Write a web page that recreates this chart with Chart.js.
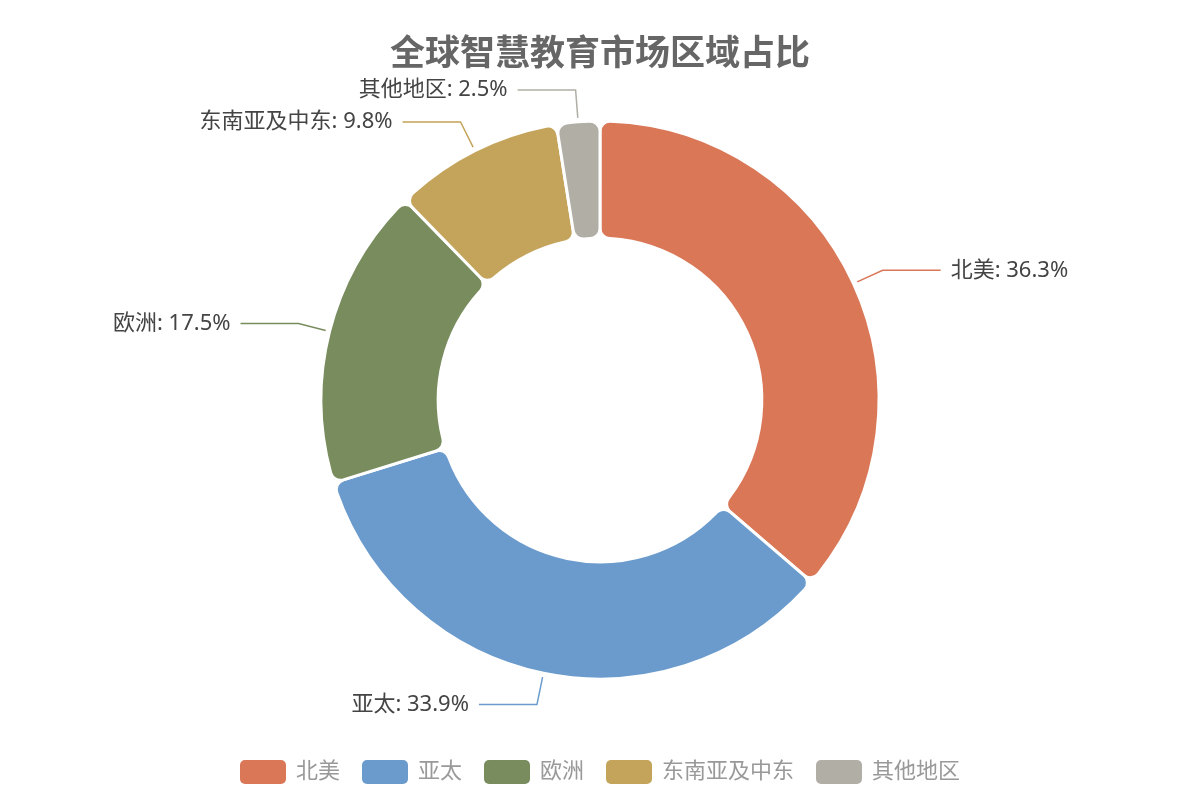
<!DOCTYPE html>
<html>
<head>
<meta charset="utf-8">
<script src="https://cdn.jsdelivr.net/npm/chart.js@4"></script>
<style>
  html, body { margin: 0; padding: 0; background: #fff; }
  #wrap { width: 1200px; height: 800px; }
</style>
</head>
<body>
<div id="wrap"><canvas id="grafico" width="1200" height="800"></canvas></div>
<script>
const titulo = '全球智慧教育市场区域占比';
const regioes = ['北美', '亚太', '欧洲', '东南亚及中东', '其他地区'];
const valores = [36.3, 33.9, 17.5, 9.8, 2.5];
const cores = ['#d97757', '#6a9bcc', '#788c5d', '#c4a35a', '#b0aea5'];

const FONTE = '"Noto Sans", "Noto Sans CJK SC", sans-serif';

// desenha titulo, rotulos com linhas guia e legenda
const extras = {
    id: 'extras',
    afterDraw(chart) {
        const ctx = chart.ctx;
        const meta = chart.getDatasetMeta(0);
        ctx.save();

        // titulo
        ctx.fillStyle = '#666';
        ctx.font = 'bold 35px ' + FONTE;
        ctx.textAlign = 'center';
        ctx.textBaseline = 'middle';
        ctx.fillText(titulo, 600, 55);

        // rotulos
        meta.data.forEach((arc, i) => {
            const meio = (arc.startAngle + arc.endAngle) / 2;
            const cx = arc.x, cy = arc.y;
            const r0 = arc.outerRadius + 4, r1 = arc.outerRadius + 32;
            const x0 = cx + Math.cos(meio) * r0, y0 = cy + Math.sin(meio) * r0;
            const x1 = cx + Math.cos(meio) * r1, y1 = cy + Math.sin(meio) * r1;
            const dir = Math.cos(meio) >= 0 ? 1 : -1;
            const x2 = x1 + dir * 58;
            ctx.strokeStyle = cores[i];
            ctx.lineWidth = 1.5;
            ctx.beginPath();
            ctx.moveTo(x0, y0);
            ctx.lineTo(x1, y1);
            ctx.lineTo(x2, y1);
            ctx.stroke();
            ctx.fillStyle = '#444';
            ctx.font = '22px ' + FONTE;
            ctx.textAlign = dir > 0 ? 'left' : 'right';
            ctx.fillText(regioes[i] + ': ' + valores[i].toFixed(1) + '%', x2 + dir * 10, y1);
        });

        // legenda
        ctx.font = '22px ' + FONTE;
        const larguras = regioes.map(r => 46 + 10 + ctx.measureText(r).width);
        const gap = 22;
        const total = larguras.reduce((a, b) => a + b, 0) + gap * (regioes.length - 1);
        let x = 600 - total / 2;
        const y = 772;
        regioes.forEach((r, i) => {
            ctx.fillStyle = cores[i];
            ctx.beginPath();
            ctx.roundRect(x, y - 12, 46, 24, 5);
            ctx.fill();
            ctx.fillStyle = '#999';
            ctx.textAlign = 'left';
            ctx.fillText(r, x + 56, y);
            x += larguras[i] + gap;
        });
        ctx.restore();
    }
};

new Chart(document.getElementById('grafico').getContext('2d'), {
    type: 'doughnut',
    data: {
        labels: regioes,
        datasets: [{
            data: valores,
            backgroundColor: cores,
            borderColor: '#fff',
            borderWidth: 3,
            borderRadius: 10,
            hoverOffset: 0
        }]
    },
    options: {
        responsive: false,
        animation: false,
        radius: 279,
        cutout: '58%',
        layout: { padding: 0 },
        plugins: {
            legend: { display: false },
            title: { display: false },
            tooltip: { enabled: false }
        }
    },
    plugins: [extras]
});
</script>
</body>
</html>
